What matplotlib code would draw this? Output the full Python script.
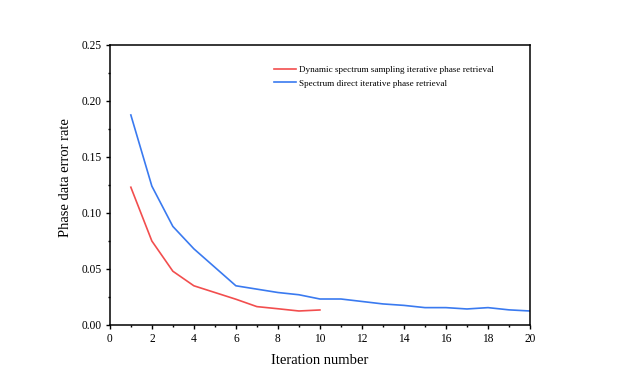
import matplotlib
matplotlib.use("Agg")
import matplotlib.pyplot as plt
from matplotlib.ticker import MultipleLocator, FormatStrFormatter

plt.rcParams['font.family'] = ['Liberation Serif', 'DejaVu Serif']

iter_red = [1, 2, 3, 4, 5, 6, 7, 8, 9, 10]
err_red = [0.123, 0.075, 0.048, 0.035, 0.029, 0.023, 0.0164, 0.0145, 0.0125, 0.0134]
iter_blue = list(range(1, 21))
err_blue = [0.1875, 0.124, 0.088, 0.068, 0.0515, 0.035, 0.032, 0.029, 0.027, 0.0232,
            0.0232, 0.021, 0.0188, 0.0175, 0.0155, 0.0155, 0.0143, 0.0155, 0.0135, 0.0125]
label_red = "Dynamic spectrum sampling iterative phase retrieval"
label_blue = "Spectrum direct iterative phase retrieval"

fig = plt.figure(figsize=(6.17, 3.9), dpi=100)
ax = fig.add_axes([0.178, 0.1667, 0.681, 0.718])
ax.plot(iter_red, err_red, color='#f24e4e', lw=1.2, label=label_red)
ax.plot(iter_blue, err_blue, color='#3a7af0', lw=1.2, label=label_blue)
ax.set_xlim(0, 20)
ax.set_ylim(0, 0.25)
ax.xaxis.set_major_locator(MultipleLocator(2))
ax.xaxis.set_minor_locator(MultipleLocator(1))
ax.yaxis.set_major_locator(MultipleLocator(0.05))
ax.yaxis.set_minor_locator(MultipleLocator(0.025))
ax.yaxis.set_major_formatter(FormatStrFormatter('%.2f'))
ax.tick_params(which='major', direction='out', length=3, width=1, labelsize=8.3, pad=3)
ax.tick_params(which='minor', direction='out', length=1.5, width=1)
for s in ax.spines.values():
    s.set_linewidth(1.1)
ax.set_xlabel("Iteration number", fontsize=10.5, labelpad=6)
ax.set_ylabel("Phase data error rate", fontsize=10.5)
ax.yaxis.set_label_coords(-0.09, 0.525)
ax.legend(loc='upper left', bbox_to_anchor=(0.37, 0.955), frameon=False, fontsize=6.6,
          handlelength=2.4, handletextpad=0.4, labelspacing=0.55)
fig.savefig("out.png", dpi=100)
